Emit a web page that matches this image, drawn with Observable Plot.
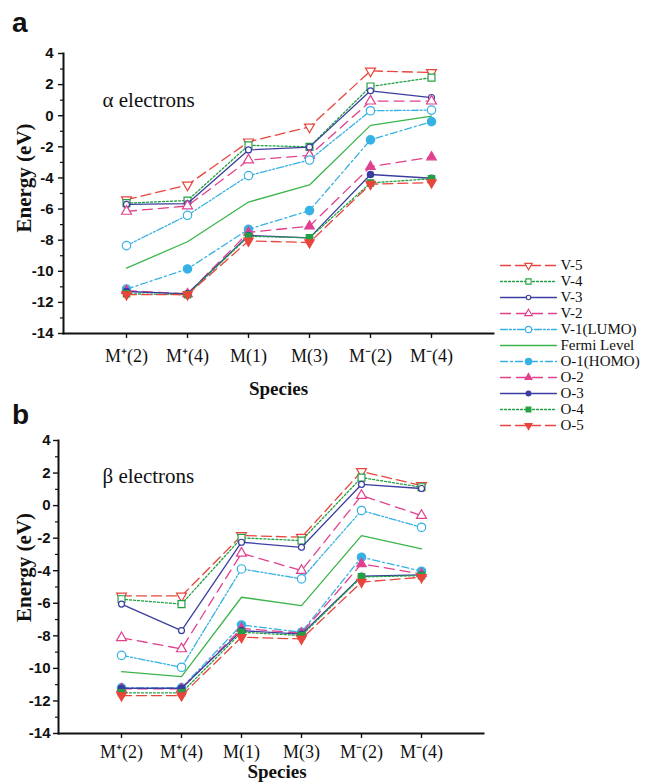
<!DOCTYPE html>
<html><head><meta charset="utf-8">
<script src="https://cdn.jsdelivr.net/npm/d3@7"></script>
<script src="https://cdn.jsdelivr.net/npm/@observablehq/plot@0.6"></script>
<style>
body{margin:0;background:#fff;}
#wrap{position:relative;width:652px;height:784px;overflow:hidden;background:#fff;}
.abs{position:absolute;}
.lab{position:absolute;font:bold 28px "Liberation Sans",Arial,sans-serif;line-height:28px;color:#111;}
</style></head><body><div id="wrap">
<div id="pa" class="abs" style="left:0;top:0"></div>
<div id="pb" class="abs" style="left:0;top:390px"></div>
<div id="lg" class="abs" style="left:495px;top:255px"></div>
<div class="lab" style="left:12px;top:9px">a</div>
<div class="lab" style="left:12px;top:401px">b</div>
</div>
<script>
// ---- categories & series names ----
const species = ["M⁺(2)","M⁺(4)","M(1)","M(3)","M⁻(2)","M⁻(4)"];
const seriesNames = ["V-5","V-4","V-3","V-2","V-1(LUMO)","Fermi Level","O-1(HOMO)","O-2","O-3","O-4","O-5"];

// ---- panel a: alpha electrons (eV) ----
const alphaV5    = [-5.40, -4.45, -1.68, -0.72,  2.88,  2.78];
const alphaV4    = [-5.62, -5.45, -1.90, -2.00,  1.88,  2.45];
const alphaV3    = [-5.70, -5.65, -2.20, -2.02,  1.60,  1.17];
const alphaV2    = [-6.15, -5.80, -2.85, -2.55,  0.94,  0.94];
const alphaV1    = [-8.35, -6.40, -3.85, -2.85,  0.32,  0.36];
const alphaFermi = [-9.80, -8.10, -5.55, -4.45, -0.62, -0.02];
const alphaO1    = [-11.15, -9.85, -7.30, -6.10, -1.55, -0.38];
const alphaO2    = [-11.25, -11.45, -7.50, -7.10, -3.28, -2.66];
const alphaO3    = [-11.30, -11.45, -7.70, -7.85, -3.78, -4.02];
const alphaO4    = [-11.45, -11.50, -7.75, -7.85, -4.32, -4.05];
const alphaO5    = [-11.50, -11.50, -8.05, -8.15, -4.40, -4.30];

// ---- panel b: beta electrons (eV) ----
const betaV5    = [-5.55, -5.55, -1.84, -1.94,  2.10,  1.23];
const betaV4    = [-5.75, -6.05, -1.98, -2.15,  1.72,  1.13];
const betaV3    = [-6.05, -7.68, -2.25, -2.56,  1.30,  1.05];
const betaV2    = [-8.12, -8.80, -2.93, -3.99,  0.62, -0.61];
const betaV1    = [-9.20, -9.93, -3.89, -4.50, -0.30, -1.33];
const betaFermi = [-10.20, -10.50, -5.63, -6.14, -1.84, -2.66];
const betaO1    = [-11.20, -11.20, -7.33, -7.78, -3.17, -4.03];
const betaO2    = [-11.25, -11.25, -7.55, -7.84, -3.58, -4.20];
const betaO3    = [-11.22, -11.22, -7.68, -7.90, -4.34, -4.26];
const betaO4    = [-11.50, -11.50, -7.78, -7.98, -4.38, -4.30];
const betaO5    = [-11.67, -11.67, -8.09, -8.19, -4.70, -4.40];

// ---- axis ticks ----
const yTicks = [4, 2, 0, -2, -4, -6, -8, -10, -12, -14];
const yMinor = [3, 1, -1, -3, -5, -7, -9, -11, -13];

const alphaSeries = [alphaV5, alphaV4, alphaV3, alphaV2, alphaV1, alphaFermi, alphaO1, alphaO2, alphaO3, alphaO4, alphaO5];
const betaSeries  = [betaV5, betaV4, betaV3, betaV2, betaV1, betaFermi, betaO1, betaO2, betaO3, betaO4, betaO5];

// ---- styles (per series, same order as seriesNames) ----
const RED = "#e8453c", GREEN = "#22a043", NAVY = "#3b3ea0", MAG = "#e0408e", CYAN = "#36b1e3", FERMI = "#3bb54a";
const styles = [
  {color: RED,   dash: "10,5",        symbol: "triangle", rotate: 180, filled: false, r: 3.7},
  {color: GREEN, dash: "2,2",         symbol: "square",   rotate: 0,   filled: false, r: 3.9},
  {color: NAVY,  dash: null,          symbol: "circle",   rotate: 0,   filled: false, r: 3},
  {color: MAG,   dash: "10,6",        symbol: "triangle", rotate: 0,   filled: false, r: 3.7},
  {color: CYAN,  dash: "7,2,2,2,2,2", symbol: "circle",   rotate: 0,   filled: false, r: 4.2},
  {color: FERMI, dash: null,          symbol: null},
  {color: CYAN,  dash: "7,3,2,3",     symbol: "circle",   rotate: 0,   filled: true,  r: 4.2},
  {color: MAG,   dash: "10,6",        symbol: "triangle", rotate: 0,   filled: true,  r: 3.5},
  {color: NAVY,  dash: null,          symbol: "circle",   rotate: 0,   filled: true,  r: 3.2},
  {color: GREEN, dash: "2,2",         symbol: "square",   rotate: 0,   filled: true,  r: 3.6},
  {color: RED,   dash: "10,5",        symbol: "triangle", rotate: 180, filled: true,  r: 3.5}
];

const SERIF = "'Liberation Serif','Times New Roman',serif";
const SANS = "'Liberation Sans',Arial,sans-serif";

function panel(o) {
  const marks = [];
  o.series.forEach((vals, i) => {
    const st = styles[i];
    const data = species.map((s, j) => ({s, e: vals[j]}));
    marks.push(Plot.line(data, {x: "s", y: "e", stroke: st.color, strokeWidth: 1.3, strokeDasharray: st.dash || undefined}));
    if (st.symbol) marks.push(Plot.dot(data, {x: "s", y: "e", symbol: st.symbol, r: st.r, rotate: st.rotate,
      stroke: st.color, strokeWidth: 1.2, fill: st.filled ? st.color : "white"}));
  });
  marks.push(
    Plot.axisY(yMinor, {tickSize: 3, tickFormat: () => "", label: null, strokeWidth: 1.2}),
    Plot.axisY(yTicks, {tickSize: 5, tickPadding: o.yPad, tickFormat: d => String(d), label: null,
      fontSize: 15, fontWeight: "bold", fontFamily: SANS, strokeWidth: 1.4}),
    Plot.axisX({tickSize: 5, tickPadding: o.xPad, label: null, fontSize: 18, fontFamily: SERIF, strokeWidth: 1.4}),
    Plot.frame({anchor: "left", strokeWidth: 2}),
    Plot.frame({anchor: "bottom", strokeWidth: 2}),
    Plot.text([o.title], {frameAnchor: "top-left", dx: o.titleDx, dy: o.titleDy, textAnchor: "start", lineAnchor: "middle",
      text: d => d, fontSize: 21, fontFamily: SERIF}),
    Plot.text([o.yLabelAt], {y: d => d, frameAnchor: "left", dx: o.yLabelDx, rotate: -90, textAnchor: "middle", lineAnchor: "middle",
      text: () => "Energy (eV)", fontSize: 21, fontWeight: "bold", fontFamily: SERIF}),
    Plot.text(["Species"], {frameAnchor: "bottom", dx: o.spDx, dy: o.spDy, text: d => d, textAnchor: "middle", lineAnchor: "middle",
      fontSize: 19, fontWeight: "bold", fontFamily: SERIF})
  );
  return Plot.plot({
    width: o.width, height: o.height,
    marginLeft: o.ml, marginRight: o.mr, marginTop: o.mt, marginBottom: o.mb,
    style: {background: "transparent", color: "#111", overflow: "visible"},
    x: {type: "point", domain: species, padding: 1},
    y: {domain: [-14, 4]},
    marks
  });
}

document.getElementById("pa").append(panel({
  series: alphaSeries, title: "α electrons",
  width: 496, height: 390, ml: 63, mr: 3, mt: 53, mb: 57,
  yPad: 5, xPad: 11, titleDx: 39, titleDy: 47, yLabelDx: -39, yLabelAt: -4, spDx: 0, spDy: 55
}));

document.getElementById("pb").append(panel({
  series: betaSeries, title: "β electrons",
  width: 490, height: 394, ml: 58, mr: 7, mt: 50, mb: 51,
  yPad: 3, xPad: 7, titleDx: 44, titleDy: 36, yLabelDx: -34, yLabelAt: -3.8, spDx: 6, spDy: 38
}));

// ---- legend ----
const legendMarks = [];
seriesNames.forEach((name, i) => {
  const st = styles[i];
  legendMarks.push(Plot.line([0, 1], {x: d => d, y: () => name, stroke: st.color, strokeWidth: 1.3, strokeDasharray: st.dash || undefined}));
  if (st.symbol) legendMarks.push(Plot.dot([0.5], {x: d => d, y: () => name, symbol: st.symbol, r: st.r * 0.75, rotate: st.rotate,
    stroke: st.color, strokeWidth: 1.1, fill: st.filled ? st.color : "white"}));
});
legendMarks.push(Plot.text(seriesNames, {x: () => 1, y: d => d, dx: 4, textAnchor: "start", text: d => d, fontSize: 15, fontFamily: SERIF}));
document.getElementById("lg").append(Plot.plot({
  width: 157, height: 180, marginLeft: 5, marginRight: 96, marginTop: 10, marginBottom: 10,
  style: {background: "transparent", color: "#111", overflow: "visible"},
  x: {domain: [0, 1], axis: null},
  y: {type: "point", domain: seriesNames, padding: 0, axis: null},
  marks: legendMarks
}));
</script>
</body></html>
